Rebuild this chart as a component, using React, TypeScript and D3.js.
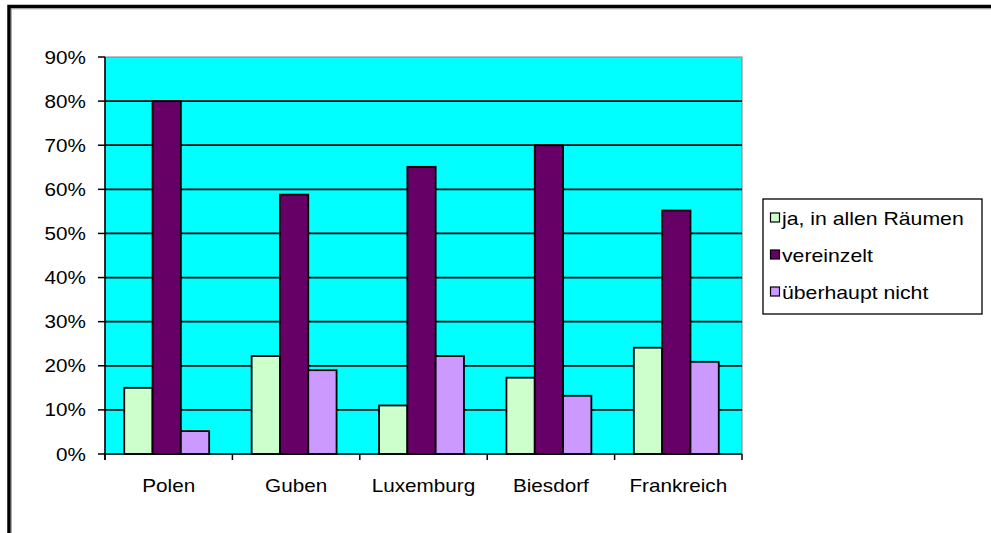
import React from "react";
import * as d3 from "d3";

const categories = ["Polen", "Guben", "Luxemburg", "Biesdorf", "Frankreich"];
const seriesNames = ["ja, in allen Räumen", "vereinzelt", "überhaupt nicht"];
const jaValues = [0.15, 0.222, 0.11, 0.173, 0.241];
const vereinzeltValues = [0.8, 0.588, 0.651, 0.7, 0.552];
const nichtValues = [0.052, 0.19, 0.222, 0.132, 0.209];
const seriesColors = ["#CCFFCC", "#660066", "#CC99FF"];
const yTicks = [0, 0.1, 0.2, 0.3, 0.4, 0.5, 0.6, 0.7, 0.8, 0.9];

const W = 991;
const H = 533;
const plot = { left: 105, right: 742, top: 57, bottom: 454 };
const FONT = "Arial, 'Liberation Sans', Helvetica, sans-serif";

export default function App() {
  const seriesValues = [jaValues, vereinzeltValues, nichtValues];
  const x0 = d3.scaleBand<string>().domain(categories).range([plot.left, plot.right]).paddingInner(0).paddingOuter(0);
  const bw = x0.bandwidth();
  const gap = (1.5 * bw) / 4.5;
  const x1 = d3.scaleBand<string>().domain(seriesNames).range([gap / 2 - 2, bw - gap / 2 - 2]).padding(0);
  const y = d3.scaleLinear().domain([0, 0.9]).range([plot.bottom, plot.top]);
  const fmt = d3.format(".0%");

  const legend = { x: 763, y: 199, w: 219, h: 115 };
  const rowY = [218, 255, 292];

  return (
    <svg
      width={W}
      height={H}
      style={{ position: "absolute", left: 0, top: 0, background: "#fff", display: "block" }}
      fontFamily={FONT}
    >
      {/* outer frame */}
      <rect x={9} y={6.5} width={W + 20} height={H + 20} fill="#fff" stroke="#000" strokeWidth={3.5} />
      <line x1={11} y1={8.8} x2={W} y2={8.8} stroke="#999" strokeWidth={1} />
      <line x1={11.3} y1={9} x2={11.3} y2={H} stroke="#999" strokeWidth={1} />

      {/* plot area */}
      <rect x={plot.left} y={plot.top} width={plot.right - plot.left} height={plot.bottom - plot.top} fill="#00FFFF" stroke="#808080" strokeWidth={1} />

      {/* gridlines */}
      {yTicks.filter((t) => t > 0 && t < 0.9).map((t) => (
        <line key={"g" + t} x1={plot.left} x2={plot.right} y1={y(t)} y2={y(t)} stroke="#000" strokeWidth={1.8} />
      ))}

      {/* bars */}
      {categories.map((c, ci) => (
        <g key={c} transform={`translate(${x0(c)},0)`}>
          {seriesNames.map((s, si) => {
            const v = seriesValues[si][ci];
            return (
              <rect
                key={s}
                x={x1(s)}
                y={y(v)}
                width={x1.bandwidth()}
                height={y(0) - y(v)}
                fill={seriesColors[si]}
                stroke="#000"
                strokeWidth={1.8}
              />
            );
          })}
        </g>
      ))}

      {/* axes */}
      <line x1={plot.left} x2={plot.left} y1={plot.top} y2={plot.bottom + 6} stroke="#000" strokeWidth={1.5} />
      <line x1={plot.left - 1} x2={plot.right} y1={plot.bottom} y2={plot.bottom} stroke="#000" strokeWidth={1.5} />
      {yTicks.map((t) => (
        <g key={"yt" + t}>
          <line x1={plot.left - 7} x2={plot.left} y1={y(t)} y2={y(t)} stroke="#000" strokeWidth={1.5} />
          <g transform={`translate(${plot.left - 19},${y(t) + 6.5}) scale(1.15,1)`}>
            <text textAnchor="end" fontSize={18} fill="#000">{fmt(t)}</text>
          </g>
        </g>
      ))}
      {[...categories.map((c) => x0(c) as number), plot.right].map((xv, i) => (
        <line key={"xt" + i} x1={xv} x2={xv} y1={plot.bottom} y2={plot.bottom + 6} stroke="#000" strokeWidth={1.5} />
      ))}
      {categories.map((c) => (
        <g key={"xl" + c} transform={`translate(${(x0(c) as number) + bw / 2},${492}) scale(1.15,1)`}>
          <text textAnchor="middle" fontSize={18} fill="#000">{c}</text>
        </g>
      ))}

      {/* legend */}
      <rect x={legend.x} y={legend.y} width={legend.w} height={legend.h} fill="#fff" stroke="#000" strokeWidth={1.3} />
      {seriesNames.map((s, i) => (
        <g key={"lg" + s}>
          <rect x={770.5} y={rowY[i] - 5} width={9} height={9} fill={seriesColors[i]} stroke="#000" strokeWidth={1.2} />
          <g transform={`translate(${782},${rowY[i] + 6.5}) scale(1.18,1)`}>
            <text fontSize={18} fill="#000">{s}</text>
          </g>
        </g>
      ))}
    </svg>
  );
}
